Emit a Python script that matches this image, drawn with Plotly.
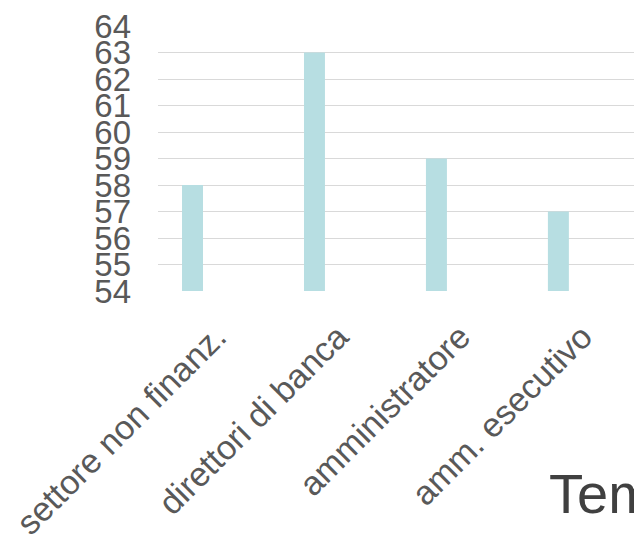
import plotly.graph_objects as go

categories = ["settore non finanz.", "direttori di banca", "amministratore", "amm. esecutivo"]
values = [58, 63, 59, 57]
y_ticks = list(range(54, 65))

gray = "#595959"
font_family = "Liberation Sans, Arial, sans-serif"

L, T, B = 158, 26, 245
PW, PH = 634 - L, 536 - T - B

fig = go.Figure()
fig.add_trace(go.Bar(
    x=list(range(len(categories))),
    y=values,
    marker=dict(color="#b7dee2", line=dict(width=0)),
    width=0.172,
    showlegend=False,
    hoverinfo="skip",
))

fig.update_layout(
    width=634,
    height=536,
    margin=dict(l=L, r=0, t=T, b=B, autoexpand=False),
    paper_bgcolor="white",
    plot_bgcolor="white",
    font=dict(family=font_family, color=gray),
    xaxis=dict(
        range=[-0.283, 3.62],
        tickmode="array",
        tickvals=list(range(len(categories))),
        ticktext=categories,
        tickangle=-45,
        tickfont=dict(size=34, color=gray, family=font_family),
        showgrid=False,
        zeroline=False,
        showline=False,
        ticks="",
        automargin=False,
        ticklabelshift=24,
        ticklabelstandoff=18,
    ),
    yaxis=dict(
        range=[54, 64],
        tickmode="array",
        tickvals=y_ticks,
        ticktext=[str(v) for v in y_ticks],
        tickfont=dict(size=33, color=gray, family=font_family),
        showgrid=True,
        gridcolor="#d9d9d9",
        gridwidth=1,
        zeroline=False,
        showline=False,
        ticks="",
        automargin=False,
        ticklabelstandoff=26,
    ),
    annotations=[
        dict(text="Tem", xref="paper", yref="paper", x=(547 - L) / PW, y=(536 - 460 - B) / PH,
             xanchor="left", yanchor="top", showarrow=False,
             font=dict(size=56, color="#404040", family=font_family)),
        dict(text="10", xref="paper", yref="paper", x=(503 - L) / PW, y=(536 - 529 - B) / PH,
             xanchor="center", yanchor="top", showarrow=False,
             font=dict(size=24, color=gray, family=font_family)),
    ],
)

fig.write_html(
    "out.html",
    config={"displayModeBar": False},
    post_script="document.body.style.margin='0';document.body.style.overflow='hidden';",
)
